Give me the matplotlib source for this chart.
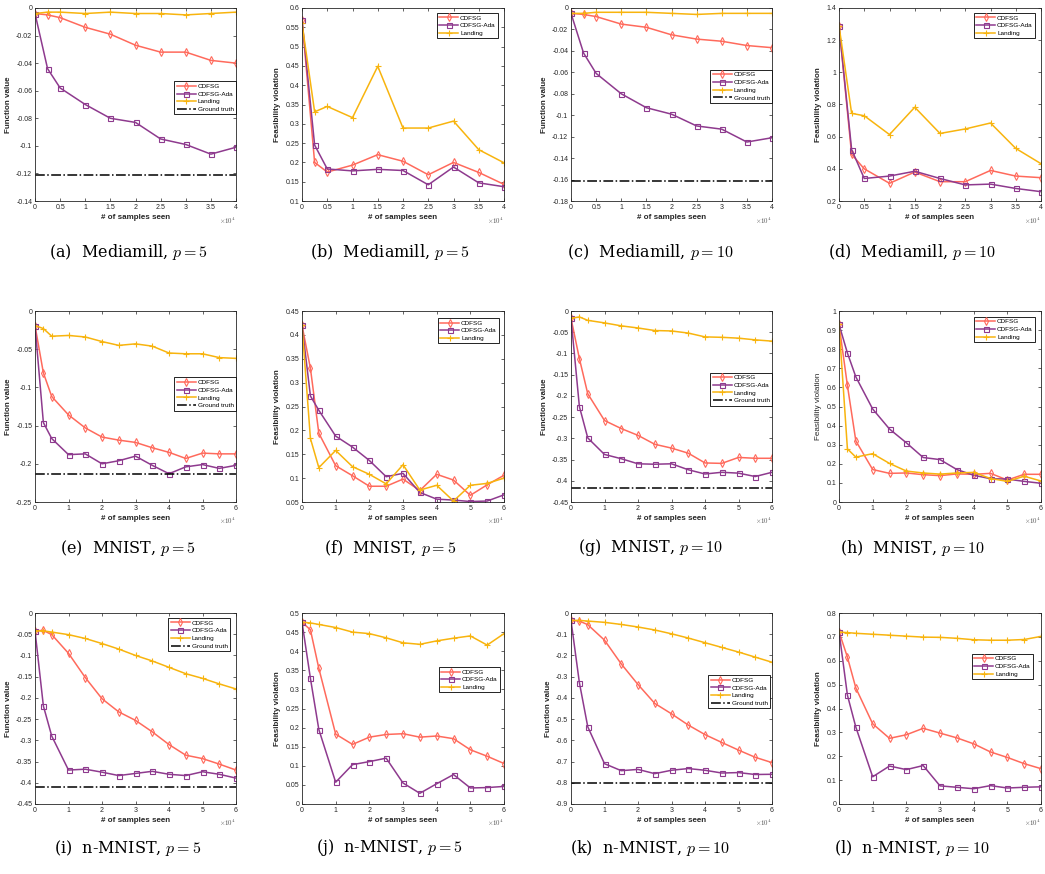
import numpy as np
import matplotlib
matplotlib.use('Agg')
import matplotlib.pyplot as plt

plt.rcParams['font.family'] = ['Liberation Sans', 'DejaVu Sans']
plt.rcParams['mathtext.fontset'] = 'cm'

# x axis (in units of 1e4 samples)
x_medi = [0, 0.25, 0.5, 1, 1.5, 2, 2.5, 3, 3.5, 4]
x_mnist = [0, 0.25, 0.5, 1, 1.5, 2, 2.5, 3, 3.5, 4, 4.5, 5, 5.5, 6]

# (a) Mediamill p=5, function value
a_cdfsg = [-0.004, -0.005, -0.007, -0.014, -0.019, -0.027, -0.032, -0.032, -0.038, -0.040]
a_ada = [-0.004, -0.044, -0.058, -0.070, -0.080, -0.083, -0.095, -0.099, -0.106, -0.101]
a_land = [-0.004, -0.003, -0.003, -0.004, -0.003, -0.004, -0.004, -0.005, -0.004, -0.003]
a_gt = -0.121
# (b) Mediamill p=5, feasibility
b_cdfsg = [0.57, 0.200, 0.175, 0.193, 0.220, 0.203, 0.168, 0.200, 0.174, 0.143]
b_ada = [0.57, 0.245, 0.183, 0.178, 0.182, 0.179, 0.142, 0.188, 0.147, 0.137]
b_land = [0.56, 0.331, 0.345, 0.316, 0.449, 0.289, 0.289, 0.307, 0.233, 0.199]
# (c) Mediamill p=10, function value
c_cdfsg = [-0.005, -0.006, -0.008, -0.015, -0.018, -0.025, -0.029, -0.031, -0.035, -0.037]
c_ada = [-0.005, -0.042, -0.061, -0.080, -0.093, -0.099, -0.110, -0.113, -0.125, -0.121]
c_land = [-0.005, -0.005, -0.004, -0.004, -0.004, -0.005, -0.006, -0.005, -0.005, -0.005]
c_gt = -0.161
# (d) Mediamill p=10, feasibility
d_cdfsg = [1.29, 0.49, 0.40, 0.31, 0.38, 0.32, 0.32, 0.39, 0.355, 0.345]
d_ada = [1.29, 0.52, 0.34, 0.355, 0.385, 0.34, 0.30, 0.305, 0.278, 0.258]
d_land = [1.29, 0.745, 0.73, 0.613, 0.783, 0.62, 0.648, 0.685, 0.527, 0.432]
# (e) MNIST p=5, function value
e_cdfsg = [-0.019, -0.081, -0.112, -0.136, -0.153, -0.165, -0.169, -0.172, -0.179, -0.185, -0.193, -0.186, -0.187, -0.187]
e_ada = [-0.019, -0.146, -0.167, -0.188, -0.187, -0.200, -0.196, -0.190, -0.202, -0.213, -0.204, -0.201, -0.206, -0.202]
e_land = [-0.019, -0.023, -0.033, -0.032, -0.034, -0.040, -0.045, -0.043, -0.046, -0.055, -0.056, -0.056, -0.061, -0.062]
e_gt = -0.213
# (f) MNIST p=5, feasibility
f_cdfsg = [0.42, 0.33, 0.194, 0.126, 0.105, 0.083, 0.083, 0.098, 0.074, 0.108, 0.096, 0.064, 0.086, 0.106]
f_ada = [0.42, 0.272, 0.242, 0.188, 0.165, 0.137, 0.103, 0.110, 0.070, 0.056, 0.054, 0.051, 0.052, 0.065]
f_land = [0.42, 0.183, 0.122, 0.158, 0.124, 0.108, 0.088, 0.128, 0.075, 0.085, 0.052, 0.085, 0.089, 0.100]
# (g) MNIST p=10, function value
g_cdfsg = [-0.017, -0.112, -0.195, -0.258, -0.277, -0.293, -0.314, -0.323, -0.335, -0.358, -0.359, -0.345, -0.347, -0.347]
g_ada = [-0.017, -0.225, -0.299, -0.338, -0.348, -0.360, -0.361, -0.360, -0.374, -0.384, -0.380, -0.382, -0.390, -0.380]
g_land = [-0.017, -0.014, -0.022, -0.028, -0.035, -0.040, -0.046, -0.047, -0.052, -0.061, -0.062, -0.064, -0.068, -0.071]
g_gt = -0.418
# (h) MNIST p=10, feasibility
h_cdfsg = [0.93, 0.61, 0.32, 0.17, 0.15, 0.152, 0.143, 0.138, 0.147, 0.145, 0.15, 0.115, 0.145, 0.145]
h_ada = [0.93, 0.78, 0.655, 0.487, 0.382, 0.31, 0.233, 0.222, 0.17, 0.14, 0.122, 0.12, 0.108, 0.098]
h_land = [0.93, 0.278, 0.235, 0.253, 0.202, 0.162, 0.152, 0.146, 0.152, 0.155, 0.123, 0.108, 0.135, 0.11]
# (i) n-MNIST p=5, function value
i_cdfsg = [-0.042, -0.041, -0.051, -0.095, -0.152, -0.202, -0.233, -0.253, -0.280, -0.310, -0.335, -0.343, -0.356, -0.370]
i_ada = [-0.042, -0.219, -0.290, -0.370, -0.368, -0.375, -0.383, -0.378, -0.373, -0.380, -0.383, -0.374, -0.380, -0.389]
i_land = [-0.042, -0.042, -0.045, -0.051, -0.060, -0.072, -0.085, -0.100, -0.113, -0.128, -0.143, -0.154, -0.167, -0.179]
i_gt = -0.409
# (j) n-MNIST p=5, feasibility
j_cdfsg = [0.476, 0.456, 0.355, 0.183, 0.156, 0.175, 0.182, 0.184, 0.175, 0.178, 0.171, 0.142, 0.125, 0.106]
j_ada = [0.476, 0.329, 0.195, 0.057, 0.103, 0.111, 0.120, 0.055, 0.028, 0.053, 0.077, 0.042, 0.043, 0.046]
j_land = [0.476, 0.474, 0.470, 0.462, 0.450, 0.446, 0.435, 0.422, 0.418, 0.427, 0.434, 0.440, 0.416, 0.446]
# (k) n-MNIST p=10, function value
k_cdfsg = [-0.035, -0.038, -0.055, -0.128, -0.240, -0.337, -0.426, -0.475, -0.528, -0.573, -0.610, -0.646, -0.680, -0.705]
k_ada = [-0.035, -0.328, -0.536, -0.710, -0.743, -0.737, -0.757, -0.741, -0.733, -0.741, -0.754, -0.752, -0.761, -0.760]
k_land = [-0.035, -0.035, -0.038, -0.044, -0.054, -0.066, -0.080, -0.098, -0.118, -0.140, -0.162, -0.184, -0.208, -0.232]
k_gt = -0.802
# (l) n-MNIST p=10, feasibility
l_cdfsg = [0.722, 0.615, 0.486, 0.336, 0.275, 0.290, 0.317, 0.297, 0.277, 0.252, 0.218, 0.195, 0.169, 0.148]
l_ada = [0.722, 0.456, 0.322, 0.114, 0.159, 0.144, 0.161, 0.076, 0.070, 0.064, 0.077, 0.067, 0.070, 0.072]
l_land = [0.720, 0.718, 0.715, 0.711, 0.707, 0.703, 0.699, 0.698, 0.694, 0.688, 0.686, 0.686, 0.689, 0.702]

captions = ['(a)  Mediamill, $p = 5$', '(b)  Mediamill, $p = 5$',
            '(c)  Mediamill, $p = 10$', '(d)  Mediamill, $p = 10$',
            '(e)  MNIST, $p = 5$', '(f)  MNIST, $p = 5$',
            '(g)  MNIST, $p = 10$', '(h)  MNIST, $p = 10$',
            '(i)  n-MNIST, $p = 5$', '(j)  n-MNIST, $p = 5$',
            '(k)  n-MNIST, $p = 10$', '(l)  n-MNIST, $p = 10$']

C_CDFSG = '#FF6A5C'
C_ADA = '#8E3A8E'
C_LAND = '#F8B40E'

W, H = 1045, 874
fig = plt.figure(figsize=(W / 100, H / 100), dpi=100)

cols = [(35, 236), (302, 504), (571, 772), (839, 1041)]
rows = [(8, 201), (311, 502), (613, 804)]
cap_y = [252, 548, 848]
cap_x = [128, 390, 650, 912]


def fmt(v, p):
    v = round(v, 4) + 0.0
    if v == 0:
        return '0'
    return '%g' % v


def make_ax(r, c):
    x0, x1 = cols[c]
    y0, y1 = rows[r]
    return fig.add_axes([x0 / W, 1 - y1 / H, (x1 - x0) / W, (y1 - y0) / H])


def draw(ax, x, cd, ada, land, gt, ylim, ystep, ylabel, xmax, leg_anchor, bold=True):
    ax.plot(x, cd, color=C_CDFSG, marker='d', mfc='none', ms=4.2, mew=0.8, lw=1.1, label='CDFSG')
    ax.plot(x, ada, color=C_ADA, marker='s', mfc='none', ms=3.6, mew=0.8, lw=1.1, label='CDFSG-Ada')
    ax.plot(x, land, color=C_LAND, marker='+', ms=4, mew=0.8, lw=1.1, label='Landing')
    if gt is not None:
        ax.plot([0, xmax], [gt, gt], 'k-.', lw=1.1, label='Ground truth')
    ax.set_xlim(0, xmax)
    ax.set_ylim(*ylim)
    ax.set_yticks(np.round(np.arange(ylim[0], ylim[1] + ystep / 2, ystep), 4))
    if xmax == 4:
        ax.set_xticks(x_medi[0:1] + x_medi[2:])
    else:
        ax.set_xticks(range(0, 7))
    ax.xaxis.set_major_formatter(plt.FuncFormatter(fmt))
    ax.yaxis.set_major_formatter(plt.FuncFormatter(fmt))
    ax.tick_params(direction='in', top=True, right=True, length=2.5, width=0.5,
                   labelsize=5, pad=2, colors='#262626')
    for s in ax.spines.values():
        s.set_linewidth(0.6)
        s.set_color('#262626')
    ax.set_xlabel('# of samples seen', fontsize=5.8, fontweight='bold', labelpad=2, color='#262626')
    ax.set_ylabel(ylabel, fontsize=5.8, fontweight='bold' if bold else 'normal', labelpad=3, color='#262626')
    ax.text(1.0, -0.075, r'$\times10^4$', transform=ax.transAxes, ha='right', va='top',
            fontsize=5, color='#555555')
    leg = ax.legend(loc='upper right', bbox_to_anchor=leg_anchor, fontsize=4.6,
                    handlelength=3.0, handletextpad=0.3, borderpad=0.35, labelspacing=0.35,
                    fancybox=False, framealpha=1, edgecolor='black', borderaxespad=0)
    leg.get_frame().set_linewidth(0.6)


FV = 'Function value'
FE = 'Feasibility violation'

draw(make_ax(0, 0), x_medi, a_cdfsg, a_ada, a_land, a_gt, (-0.14, 0), 0.02, FV, 4, (1.0, 0.62))
draw(make_ax(0, 1), x_medi, b_cdfsg, b_ada, b_land, None, (0.1, 0.6), 0.05, FE, 4, (0.97, 0.975))
draw(make_ax(0, 2), x_medi, c_cdfsg, c_ada, c_land, c_gt, (-0.18, 0), 0.02, FV, 4, (1.0, 0.68))
draw(make_ax(0, 3), x_medi, d_cdfsg, d_ada, d_land, None, (0.2, 1.4), 0.2, FE, 4, (0.97, 0.975))
draw(make_ax(1, 0), x_mnist, e_cdfsg, e_ada, e_land, e_gt, (-0.25, 0), 0.05, FV, 6, (1.0, 0.652))
draw(make_ax(1, 1), x_mnist, f_cdfsg, f_ada, f_land, None, (0.05, 0.45), 0.05, FE, 6, (0.975, 0.963))
draw(make_ax(1, 2), x_mnist, g_cdfsg, g_ada, g_land, g_gt, (-0.45, 0), 0.05, FV, 6, (1.0, 0.678))
draw(make_ax(1, 3), x_mnist, h_cdfsg, h_ada, h_land, None, (0, 1), 0.1, FE, 6, (0.97, 0.97), bold=False)
draw(make_ax(2, 0), x_mnist, i_cdfsg, i_ada, i_land, i_gt, (-0.45, 0), 0.05, FV, 6, (0.97, 0.974))
draw(make_ax(2, 1), x_mnist, j_cdfsg, j_ada, j_land, None, (0, 0.5), 0.05, FE, 6, (0.98, 0.717))
draw(make_ax(2, 2), x_mnist, k_cdfsg, k_ada, k_land, k_gt, (-0.9, 0), 0.1, FV, 6, (0.99, 0.674))
draw(make_ax(2, 3), x_mnist, l_cdfsg, l_ada, l_land, None, (0, 0.8), 0.1, FE, 6, (0.96, 0.787))

for n, cap in enumerate(captions):
    r, c = divmod(n, 4)
    fig.text(cap_x[c] / W, 1 - cap_y[r] / H, cap, ha='center', va='center',
             fontsize=11.5, family='DejaVu Serif')

fig.savefig('out.png', dpi=100)
